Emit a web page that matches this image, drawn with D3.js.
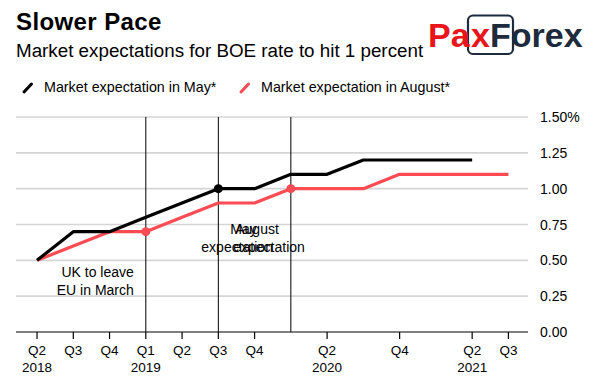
<!DOCTYPE html>
<html>
<head>
<meta charset="utf-8">
<script src="https://cdn.jsdelivr.net/npm/d3@7/dist/d3.min.js"></script>
<style>
  html, body { margin: 0; padding: 0; background: #fff; }
  svg { display: block; font-family: "Liberation Sans", Arial, Helvetica, sans-serif; }
</style>
</head>
<body>
<svg id="chart" width="595" height="382"></svg>
<script>
// ---- Data ----
const quarters = ["2018Q2","2018Q3","2018Q4","2019Q1","2019Q2","2019Q3","2019Q4",
                  "2020Q1","2020Q2","2020Q3","2020Q4","2021Q1","2021Q2","2021Q3"];
const mayExpectation = [0.5,0.7,0.7,0.8,0.9,1.0,1.0,1.1,1.1,1.2,1.2,1.2,1.2,null];
const augustExpectation = [0.5,0.6,0.7,0.7,0.8,0.9,0.9,1.0,1.0,1.0,1.1,1.1,1.1,1.1];
const mayDots = ["2019Q3"];
const augustDots = ["2019Q1","2020Q1"];
const eventLines = ["2019Q1","2019Q3","2020Q1"];
const tickQuarters = ["2018Q2","2018Q3","2018Q4","2019Q1","2019Q2","2019Q3","2019Q4",
                      "2020Q2","2020Q4","2021Q2","2021Q3"];
const tickTop = ["Q2","Q3","Q4","Q1","Q2","Q3","Q4","Q2","Q4","Q2","Q3"];
const tickBottom = ["2018","","","2019","","","","2020","","2021",""];
const yTicks = [0,0.25,0.5,0.75,1.0,1.25,1.5];
const yTickLabels = ["0.00","0.25","0.50","0.75","1.00","1.25","1.50%"];
const seriesNames = ["Market expectation in May*","Market expectation in August*"];
const title = "Slower Pace";
const subtitle = "Market expectations for BOE rate to hit 1 percent";

const RED = "#fd4b53";
const BLACK = "#000000";

const svg = d3.select("#chart");
const plotLeft = 16, plotRight = 528, plotTop = 117, plotBottom = 332;

const idx = d3.scaleOrdinal().domain(quarters).range(d3.range(quarters.length));
const x = d3.scaleLinear().domain([-0.58, quarters.length - 1 + 0.54]).range([plotLeft, plotRight]);
const xq = q => x(idx(q));
const y = d3.scaleLinear().domain([0, 1.5]).range([plotBottom, plotTop]);

// Title
svg.append("text").attr("x", 16).attr("y", 30)
  .attr("font-size", 24).attr("letter-spacing", 0.4).attr("font-weight", "bold").attr("fill", "#000").text(title);
svg.append("text").attr("x", 16).attr("y", 57)
  .attr("font-size", 18.8).attr("fill", "#000").text(subtitle);

// Logo
const logo = svg.append("g").attr("font-weight", "bold").attr("font-size", 34);
logo.append("rect").attr("x", 468).attr("y", 15.5).attr("width", 45).attr("height", 38.5)
  .attr("rx", 5).attr("fill", "#fff").attr("stroke", "#1d2b3c").attr("stroke-width", 2.2);
logo.append("text").attr("x", 428).attr("y", 47).attr("fill", "#e8151b").text("Pa");
logo.append("text").attr("x", 471).attr("y", 47).attr("fill", "#e8151b").text("x");
logo.append("text").attr("x", 490).attr("y", 47).attr("fill", "#1d2b3c").text("Forex");

// Legend
const legend = svg.append("g").attr("font-size", 14.3);
[[24, 0], [241, 1]].forEach(([lx, i]) => {
  legend.append("line").attr("x1", lx).attr("y1", 92).attr("x2", lx + 7.5).attr("y2", 84)
    .attr("stroke", i ? RED : BLACK).attr("stroke-width", 3).attr("stroke-linecap", "round");
  legend.append("text").attr("x", lx + 20).attr("y", 92).attr("fill", "#000").text(seriesNames[i]);
});

// Gridlines
svg.append("g").selectAll("line").data(yTicks.slice(1)).join("line")
  .attr("x1", plotLeft).attr("x2", plotRight).attr("y1", d => y(d)).attr("y2", d => y(d))
  .attr("stroke", "#d5d5d5").attr("stroke-width", 1.6);

// Y labels
svg.append("g").attr("font-size", 14).selectAll("text").data(yTicks).join("text")
  .attr("x", 540).attr("y", d => y(d)).attr("dy", "0.36em").attr("fill", "#000")
  .text((d, i) => yTickLabels[i]);

// Event lines
svg.append("g").selectAll("line").data(eventLines).join("line")
  .attr("x1", d => xq(d)).attr("x2", d => xq(d)).attr("y1", y(1.5)).attr("y2", plotBottom)
  .attr("stroke", "#000").attr("stroke-width", 1);

// X axis
svg.append("line").attr("x1", plotLeft).attr("x2", plotRight).attr("y1", plotBottom).attr("y2", plotBottom)
  .attr("stroke", "#000").attr("stroke-width", 1.2);
const xt = svg.append("g").attr("font-size", 13.5).attr("text-anchor", "middle");
xt.selectAll("line").data(tickQuarters).join("line")
  .attr("x1", d => xq(d)).attr("x2", d => xq(d)).attr("y1", plotBottom).attr("y2", plotBottom + 7)
  .attr("stroke", "#000").attr("stroke-width", 1.2);
xt.selectAll("text.top").data(tickQuarters).join("text").attr("class", "top")
  .attr("x", d => xq(d)).attr("y", 355).text((d, i) => tickTop[i]);
xt.selectAll("text.bot").data(tickQuarters).join("text").attr("class", "bot")
  .attr("x", d => xq(d)).attr("y", 372).text((d, i) => tickBottom[i]);

// Lines
const line = d3.line().defined(d => d[1] != null).x(d => xq(d[0])).y(d => y(d[1]));
svg.append("path").datum(quarters.map((q, i) => [q, augustExpectation[i]]))
  .attr("d", line).attr("fill", "none").attr("stroke", RED).attr("stroke-width", 3.2)
  .attr("stroke-linejoin", "round");
svg.append("path").datum(quarters.map((q, i) => [q, mayExpectation[i]]))
  .attr("d", line).attr("fill", "none").attr("stroke", BLACK).attr("stroke-width", 3.2)
  .attr("stroke-linejoin", "round");

// Dots
svg.append("g").selectAll("circle").data(augustDots).join("circle")
  .attr("cx", d => xq(d)).attr("cy", d => y(augustExpectation[idx(d)])).attr("r", 4.5).attr("fill", RED);
svg.append("g").selectAll("circle").data(mayDots).join("circle")
  .attr("cx", d => xq(d)).attr("cy", d => y(mayExpectation[idx(d)])).attr("r", 4.5).attr("fill", BLACK);

// Annotations (overlapping, as in the source chart)
const ann = svg.append("g").attr("font-size", 14).attr("fill", "#000");
const a1 = xq("2019Q1");
ann.append("text").attr("x", a1 - 12).attr("y", 277).attr("text-anchor", "end").text("UK to leave");
ann.append("text").attr("x", a1 - 12).attr("y", 295).attr("text-anchor", "end").text("EU in March");
const a2 = xq("2019Q3");
ann.append("text").attr("x", a2 + 12).attr("y", 234).text("May");
ann.append("text").attr("x", a2 - 17).attr("y", 252).text("expectation");
const a3 = xq("2020Q1");
ann.append("text").attr("x", a3 - 12).attr("y", 234).attr("text-anchor", "end").text("August");
ann.append("text").attr("x", a3 + 14).attr("y", 252).attr("text-anchor", "end").text("expectation");
</script>
</body>
</html>
